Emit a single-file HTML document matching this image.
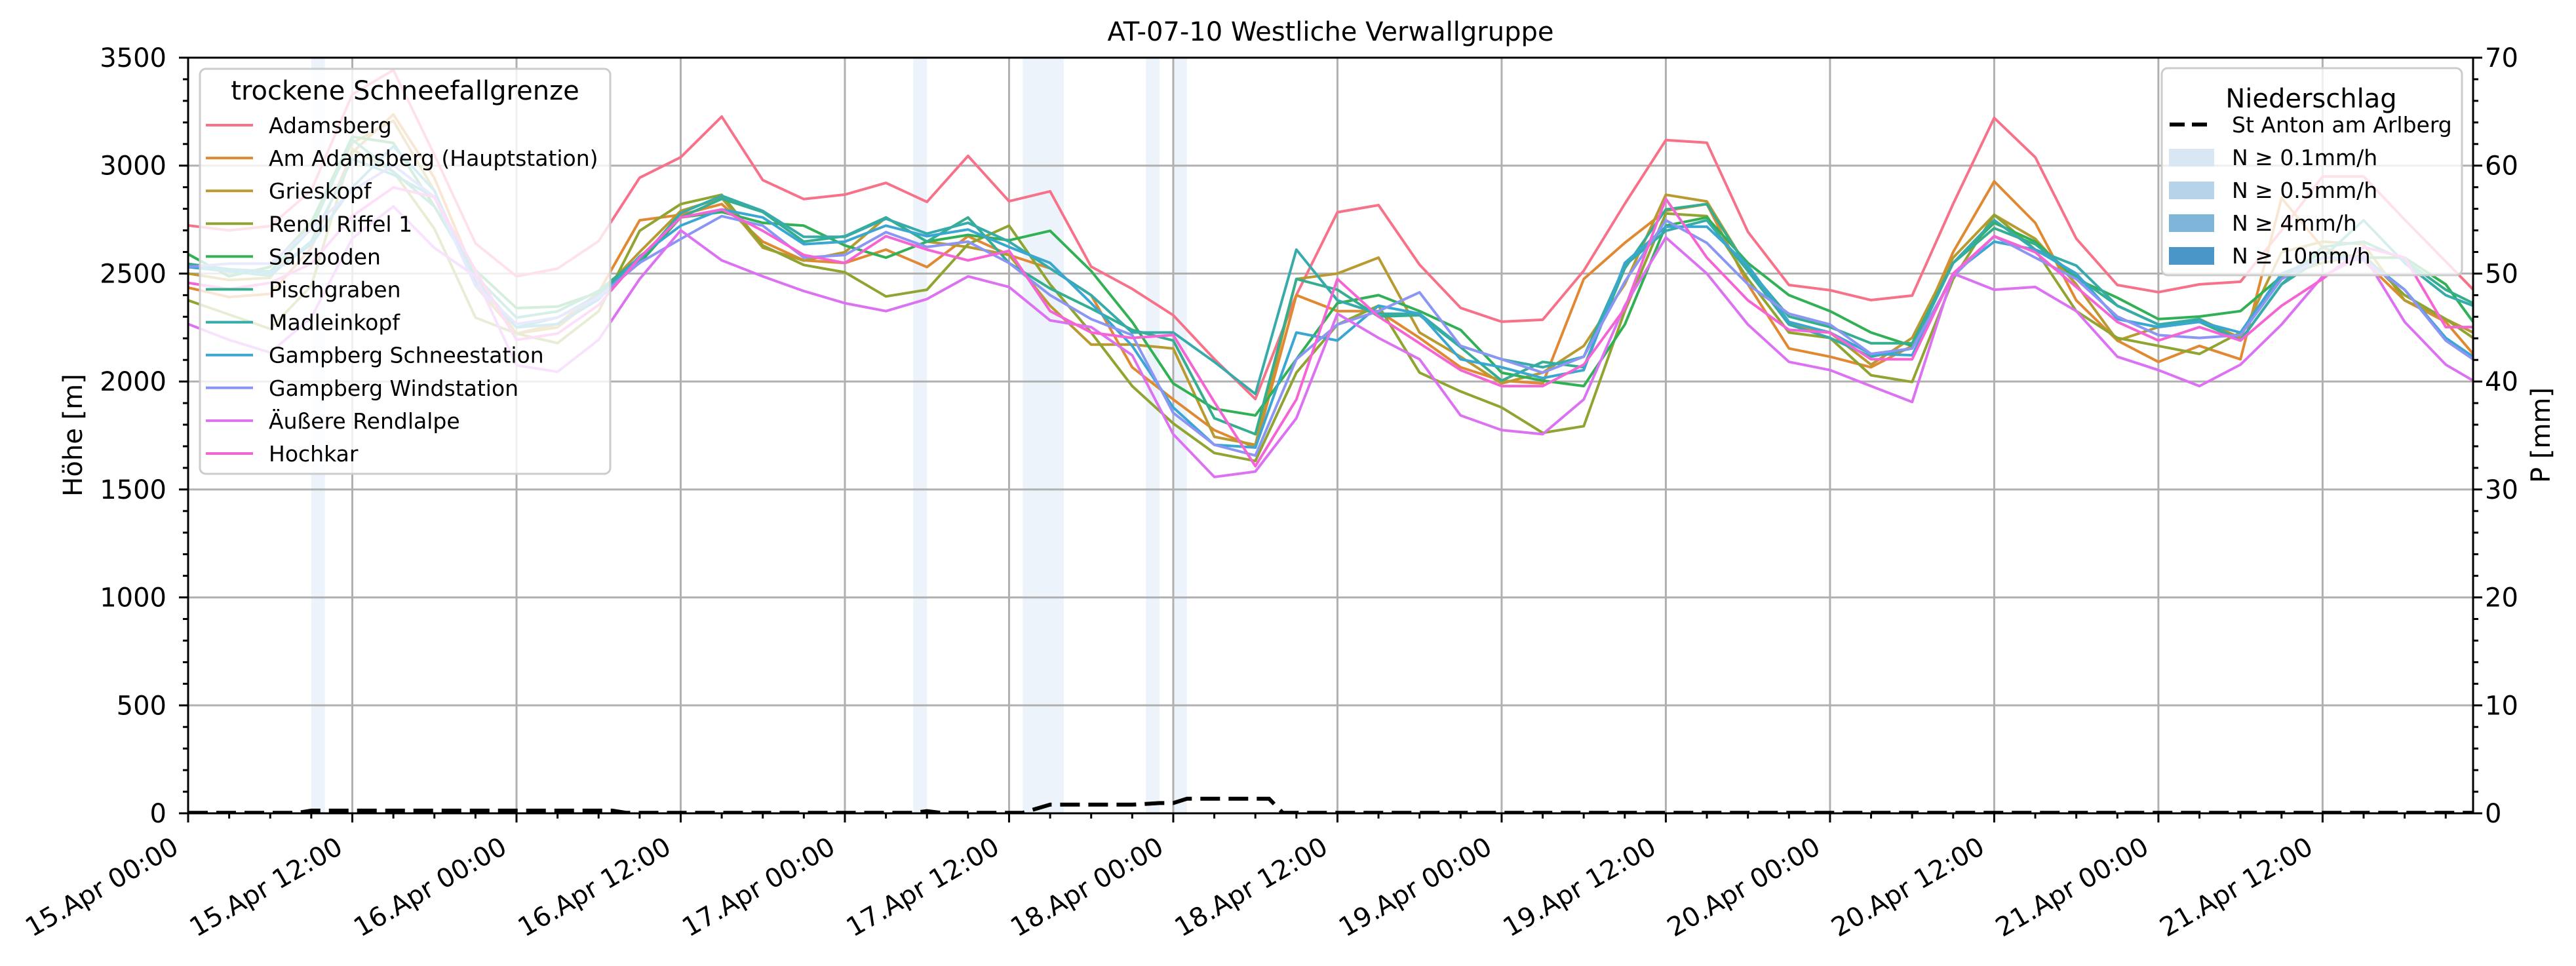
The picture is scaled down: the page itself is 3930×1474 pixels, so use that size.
<!DOCTYPE html>
<html><head><meta charset="utf-8"><style>
html,body{margin:0;padding:0;background:#fff;}
svg{display:block;font-family:"DejaVu Sans","Liberation Sans",sans-serif;}
</style></head><body>
<svg id="chart" xmlns="http://www.w3.org/2000/svg" width="3930" height="1474" viewBox="0 0 3930 1474">
<rect x="0" y="0" width="3930" height="1474" fill="#fff"/>
<text x="2030" y="62" font-size="40" text-anchor="middle">AT-07-10 Westliche Verwallgruppe</text>
<g id="bands"></g><g id="grid"></g>
<defs><clipPath id="plotclip"><rect x="287" y="88" width="3486" height="1153"/></clipPath></defs>
<g id="series" clip-path="url(#plotclip)"></g>
<g id="precip" clip-path="url(#plotclip)"></g>
<g id="legends"></g>
<g id="axes"></g>
<text transform="translate(125,664) rotate(-90)" font-size="40" text-anchor="middle">Höhe [m]</text>
<text transform="translate(3890,664) rotate(-90)" font-size="40" text-anchor="middle">P [mm]</text>
</svg>
<script>
const hours=[0,3,6,9,12,15,18,21,24,27,30,33,36,39,42,45,48,51,54,57,60,63,66,69,72,75,78,81,84,87,90,93,96,99,102,105,108,111,114,117,120,123,126,129,132,135,138,141,144,147,150,153,156,159,162,165,167];
const stationNames=["Adamsberg","Am Adamsberg (Hauptstation)","Grieskopf","Rendl Riffel 1","Salzboden","Pischgraben","Madleinkopf","Gampberg Schneestation","Gampberg Windstation","Äußere Rendlalpe","Hochkar"];
const adamsberg=[2723,2700,2720,2885,3330,3443,3050,2640,2487,2523,2650,2944,3039,3227,2933,2845,2866,2920,2832,3045,2835,2881,2532,2429,2307,2104,1919,2401,2784,2817,2541,2341,2277,2286,2513,2823,3118,3106,2693,2447,2423,2377,2398,2823,3221,3039,2662,2447,2414,2450,2462,2700,2950,2950,2750,2556,2426];
const amAdamsberg=[2435,2391,2406,2619,3061,3237,2943,2487,2222,2266,2413,2747,2772,2822,2648,2561,2549,2611,2530,2673,2586,2524,2400,2066,1917,1775,1694,2400,2326,2326,2202,2066,2004,1991,2475,2642,2791,2822,2450,2153,2115,2066,2165,2600,2927,2735,2376,2190,2091,2165,2103,2850,2620,2560,2376,2276,2128];
const grieskopf=[2500,2470,2480,2737,3105,3208,2884,2443,2222,2251,2400,2600,2790,2850,2620,2560,2599,2760,2648,2623,2586,2351,2171,2171,2153,1744,1707,2475,2500,2574,2227,2115,1991,2041,2165,2450,2865,2834,2524,2264,2227,2078,2202,2574,2772,2661,2450,2190,2252,2289,2202,2599,2648,2636,2376,2289,2227];
const rendlRiffel=[2376,2310,2244,2443,3075,2972,2708,2296,2222,2178,2325,2698,2822,2865,2630,2540,2506,2394,2425,2636,2722,2450,2227,1979,1806,1669,1632,2041,2264,2351,2041,1954,1880,1762,1793,2326,2778,2766,2475,2227,2202,2029,1998,2475,2772,2611,2326,2202,2165,2128,2227,2487,2550,2586,2400,2289,2202];
const salzboden=[2590,2487,2531,2737,3134,3105,2811,2516,2340,2347,2413,2549,2760,2785,2735,2722,2630,2574,2648,2679,2654,2698,2512,2276,1991,1874,1843,2103,2363,2400,2326,2239,2041,2004,1979,2264,2722,2760,2549,2400,2326,2227,2165,2549,2735,2648,2475,2388,2289,2301,2326,2487,2599,2574,2574,2450,2276];
const pischgraben=[2545,2520,2510,2708,3120,2972,2811,2487,2296,2325,2420,2574,2760,2846,2785,2648,2673,2760,2648,2760,2549,2431,2338,2239,2190,1830,1756,2475,2425,2301,2307,2159,2004,2091,2066,2524,2797,2822,2524,2301,2252,2177,2177,2549,2710,2636,2487,2351,2264,2276,2190,2450,2623,2648,2561,2425,2363];
const madleinkopf=[2530,2510,2490,2650,3031,2958,2855,2472,2251,2296,2400,2560,2780,2860,2790,2670,2670,2754,2685,2735,2648,2524,2400,2227,2227,2091,1942,2611,2376,2314,2314,2165,2103,2066,2115,2537,2698,2747,2512,2264,2202,2115,2153,2549,2747,2611,2537,2351,2264,2289,2190,2450,2574,2747,2549,2400,2351];
const gampbergSchnee=[2531,2516,2502,2634,2899,3090,2884,2458,2251,2266,2380,2580,2722,2797,2760,2636,2648,2722,2673,2704,2623,2549,2363,2165,1880,1707,1694,2227,2190,2351,2314,2103,2066,2016,2053,2549,2717,2717,2537,2276,2227,2128,2122,2500,2648,2611,2500,2289,2252,2276,2227,2500,2574,2574,2425,2202,2115];
const gampbergWind=[2531,2546,2546,2708,2884,3002,2855,2443,2266,2296,2390,2550,2660,2766,2722,2574,2586,2692,2623,2648,2549,2400,2289,2215,1855,1707,1657,2103,2264,2326,2413,2165,2103,2041,2115,2462,2747,2642,2450,2314,2264,2128,2153,2487,2673,2574,2475,2301,2215,2202,2215,2475,2574,2561,2425,2190,2103];
const aeussereRendlalpe=[2266,2193,2134,2296,2663,2811,2619,2487,2075,2045,2193,2475,2700,2561,2487,2419,2363,2326,2382,2487,2438,2283,2252,2122,1756,1558,1583,1830,2314,2202,2103,1843,1775,1756,1917,2351,2667,2500,2264,2091,2053,1979,1905,2500,2425,2438,2326,2115,2053,1979,2078,2264,2487,2586,2276,2078,2004];
const hochkar=[2457,2428,2457,2546,2766,2899,2855,2516,2193,2222,2354,2574,2760,2797,2698,2586,2549,2673,2611,2561,2605,2326,2227,2202,2215,1905,1608,1917,2475,2301,2177,2053,1979,1979,2078,2338,2846,2574,2376,2239,2227,2103,2103,2500,2673,2599,2438,2276,2190,2252,2190,2351,2475,2623,2574,2252,2252];
const precipHours=[0,8,9,31,32,53,54,55,61,63,69,71,72,73,79,80,167];
const precipValues=[0.05,0.05,0.25,0.25,0.05,0.05,0.2,0.05,0.05,0.8,0.8,0.95,0.95,1.35,1.35,0.05,0.05];
const precipBandHours=[9,53,61,62,63,70,72];
const xTickLabels=["15.Apr 00:00","15.Apr 12:00","16.Apr 00:00","16.Apr 12:00","17.Apr 00:00","17.Apr 12:00","18.Apr 00:00","18.Apr 12:00","19.Apr 00:00","19.Apr 12:00","20.Apr 00:00","20.Apr 12:00","21.Apr 00:00","21.Apr 12:00"];
const yTicks=[0,500,1000,1500,2000,2500,3000,3500];
const y2Ticks=[0,10,20,30,40,50,60,70];

const allSeries=[adamsberg,amAdamsberg,grieskopf,rendlRiffel,salzboden,pischgraben,madleinkopf,gampbergSchnee,gampbergWind,aeussereRendlalpe,hochkar];
const colors=['#f77189','#e08932','#b89a31','#8fa431','#32b055','#35ae90','#37abaa','#3aa6d2','#8b95f4','#dc72f2','#f564d4'];
const NS='http://www.w3.org/2000/svg';
const X0=287,X1=3773,Y0=1241,Y1=88,HMAX=167;
const xs=h=>X0+h*(X1-X0)/HMAX;
const yL=v=>Y0-v*(Y0-Y1)/3500;
const yR=p=>Y0-p*(Y0-Y1)/70;
function mk(tag,attrs,parent){const e=document.createElementNS(NS,tag);for(const k in attrs)e.setAttribute(k,attrs[k]);parent.appendChild(e);return e;}

const bands=document.getElementById('bands');
precipBandHours.forEach(h=>{
  const r=mk('rect',{x:xs(h),y:Y1,width:xs(h+1)-xs(h),height:Y0-Y1,fill:'#edf3fa'},bands);
  
  
});

const grid=document.getElementById('grid');
xTickLabels.forEach((l,i)=>{const x=xs(i*12);mk('line',{x1:x,x2:x,y1:Y1,y2:Y0,stroke:'#b0b0b0','stroke-width':3},grid);});
yTicks.forEach(v=>{const y=yL(v);mk('line',{x1:X0,x2:X1,y1:y,y2:y,stroke:'#b0b0b0','stroke-width':3},grid);});

const sg=document.getElementById('series');
allSeries.forEach((s,i)=>{
  const pts=s.map((v,j)=>xs(hours[j]).toFixed(1)+','+yL(v).toFixed(1)).join(' ');
  const p=mk('polyline',{points:pts,fill:'none',stroke:colors[i],'stroke-width':4,'stroke-linejoin':'round'},sg);
  
  
});

const pg=document.getElementById('precip');
const ppts=precipValues.map((v,j)=>xs(precipHours[j]).toFixed(1)+','+yR(v).toFixed(1)).join(' ');
const pl=mk('polyline',{points:ppts,fill:'none',stroke:'#000','stroke-width':6,'stroke-dasharray':'30,13'},pg);



// legends
const lg=document.getElementById('legends');
const l1=mk('g',{},lg);


mk('rect',{x:305,y:105,width:626,height:618,rx:9,fill:'rgba(255,255,255,0.8)',stroke:'#cccccc','stroke-width':3},l1);
const t1=mk('text',{x:618,y:152,'font-size':40,'text-anchor':'middle'},l1);t1.textContent='trockene Schneefallgrenze';
stationNames.forEach((n,i)=>{
  const y=191+i*50.1;
  const e=mk('g',{},l1);
  
  
  mk('line',{x1:314,x2:386,y1:y,y2:y,stroke:colors[i],'stroke-width':4},e);
  const t=mk('text',{x:410,y:y+12,'font-size':33},e);t.textContent=n;
});
const l2=mk('g',{},lg);


mk('rect',{x:3298,y:104,width:458,height:316,rx:9,fill:'rgba(255,255,255,0.8)',stroke:'#cccccc','stroke-width':3},l2);
const t2=mk('text',{x:3526,y:164,'font-size':40,'text-anchor':'middle'},l2);t2.textContent='Niederschlag';
mk('line',{x1:3310,x2:3370,y1:190,y2:190,stroke:'#000','stroke-width':6,'stroke-dasharray':'23,11'},l2);
const t3=mk('text',{x:3405,y:202,'font-size':33},l2);t3.textContent='St Anton am Arlberg';
const patchLabels=['N ≥ 0.1mm/h','N ≥ 0.5mm/h','N ≥ 4mm/h','N ≥ 10mm/h'];
const patchColors=['#d9e7f4','#b7d3ea','#7fb5d8','#4a96c8'];
patchLabels.forEach((n,i)=>{
  const y=240+i*50;
  const e=mk('g',{},l2);
  
  
  mk('rect',{x:3309,y:y-13,width:69,height:27,fill:patchColors[i]},e);
  const t=mk('text',{x:3405,y:y+12,'font-size':33},e);t.textContent=n;
});

// axes
const ax=document.getElementById('axes');
for(let h=0;h<=HMAX;h+=3){const x=xs(h);const major=h%12===0;mk('line',{x1:x,x2:x,y1:Y0,y2:Y0+(major?14:8),stroke:'#000','stroke-width':3},ax);}
xTickLabels.forEach((l,i)=>{
  const x=xs(i*12)-12,y=1300;
  const t=mk('text',{x:x,y:y,'font-size':40,'text-anchor':'end',transform:`rotate(-30 ${x} ${y})`},ax);
  t.textContent=l;
  
  
});
for(let v=0;v<=3500;v+=100){const y=yL(v);const major=v%500===0;mk('line',{x1:X0,x2:X0-(major?14:8),y1:y,y2:y,stroke:'#000','stroke-width':3},ax);}
yTicks.forEach(v=>{const t=mk('text',{x:254,y:yL(v)+14,'font-size':40,'text-anchor':'end'},ax);t.textContent=v;
  
  });
for(let p=0;p<=70;p+=2){const y=yR(p);const major=p%10===0;mk('line',{x1:X1,x2:X1+(major?14:8),y1:y,y2:y,stroke:'#000','stroke-width':3},ax);}
y2Ticks.forEach(p=>{const t=mk('text',{x:3791,y:yR(p)+14,'font-size':40},ax);t.textContent=p;
  
  });
const fr=mk('rect',{x:X0,y:Y1,width:X1-X0,height:Y0-Y1,fill:'none',stroke:'#000','stroke-width':3},ax);


</script>
</body></html>
